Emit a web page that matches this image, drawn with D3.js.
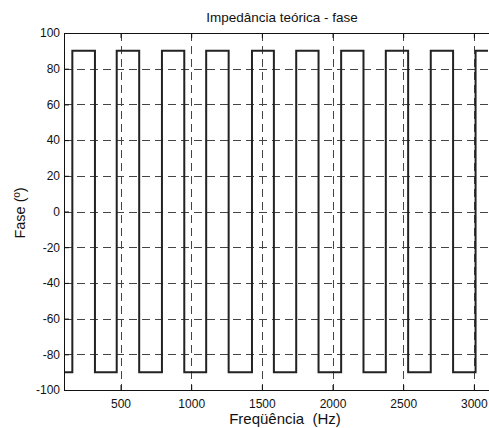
<!DOCTYPE html>
<html><head><meta charset="utf-8">
<script src="https://cdn.jsdelivr.net/npm/d3@7"></script>
<style>body{margin:0;background:#fff}svg{display:block}text{font-family:"Liberation Sans",Arial,sans-serif;fill:#111}</style>
</head><body>
<script>
const xTicks = [500,1000,1500,2000,2500,3000];
const yTicks = [-100,-80,-60,-40,-20,0,20,40,60,80,100];
// transition frequencies (Hz) and phase (deg) after each transition
const stepFreqs  = [100,159,319,473,632,793,951,1106,1265,1430,1585,1743,1901,2061,2219,2377,2535,2695,2853,3012,3100];
const stepPhases = [-90,90,-90,90,-90,90,-90,90,-90,90,-90,90,-90,90,-90,90,-90,90,-90,90,90];

const W=489,H=428;
const svg=d3.select("body").append("svg").attr("width",W).attr("height",H);
const x=d3.scaleLinear().domain([100,3100]).range([64,488]);
const y=d3.scaleLinear().domain([-100,100]).range([390,33]);
const L=64,R=489,T=33,B=390;
const fmt=d=>String(d);

const defs=svg.append("defs");
defs.append("clipPath").attr("id","c").append("rect").attr("x",L).attr("y",T).attr("width",R-L).attr("height",B-T);

// grid
const g=svg.append("g").attr("clip-path","url(#c)");
g.selectAll(".gy").data(yTicks.filter(d=>d>-100&&d<100)).enter().append("line")
 .attr("x1",L).attr("x2",R).attr("y1",d=>Math.round(y(d))+0.5).attr("y2",d=>Math.round(y(d))+0.5)
 .attr("stroke","#444").attr("stroke-width",1).attr("stroke-dasharray","8,5");
g.selectAll(".gx").data(xTicks).enter().append("line")
 .attr("y1",T).attr("y2",B).attr("x1",d=>Math.round(x(d))+0.5).attr("x2",d=>Math.round(x(d))+0.5)
 .attr("stroke","#444").attr("stroke-width",1).attr("stroke-dasharray","8,5");

// data line
const pts=stepFreqs.map((f,i)=>[f,stepPhases[i]]);
const line=d3.line().x(d=>x(d[0])).y(d=>y(d[1])).curve(d3.curveStepAfter);
g.append("path").datum(pts).attr("d",line).attr("fill","none").attr("stroke","#222").attr("stroke-width",2);

// axes
const ax=svg.append("g");
const ab=ax.append("g").attr("transform",`translate(0,${B})`).call(d3.axisBottom(x).tickValues(xTicks).tickSize(-5).tickPadding(9).tickFormat(fmt));
const at=ax.append("g").attr("transform",`translate(0,${T})`).call(d3.axisTop(x).tickValues(xTicks).tickSize(-5).tickFormat(""));
const al=ax.append("g").attr("transform",`translate(${L},0)`).call(d3.axisLeft(y).tickValues(yTicks).tickSize(-5).tickPadding(4).tickFormat(fmt));
[ab,at,al].forEach(a=>{a.select(".domain").remove();a.selectAll("line").attr("stroke","#111");a.selectAll("text").style("font-size","12px").attr("fill","#111").style("font-family","Liberation Sans, Arial, sans-serif");});
ax.append("line").attr("x1",L).attr("x2",R).attr("y1",T+0.5).attr("y2",T+0.5).attr("stroke","#111");
ax.append("line").attr("x1",L).attr("x2",R).attr("y1",B+0.5).attr("y2",B+0.5).attr("stroke","#111");
ax.append("line").attr("x1",L+0.5).attr("x2",L+0.5).attr("y1",T).attr("y2",B+1).attr("stroke","#111");

svg.append("text").attr("x",282).attr("y",22).attr("text-anchor","middle").style("font-size","13.5px").text("Impedância teórica - fase");
svg.append("text").attr("x",285).attr("y",424).attr("text-anchor","middle").style("font-size","15px").attr("xml:space","preserve").text("Freqüência  (Hz)");
svg.append("text").attr("transform","translate(25,213) rotate(-90)").attr("text-anchor","middle").style("font-size","14.5px").text("Fase (º)");
</script>
</body></html>
